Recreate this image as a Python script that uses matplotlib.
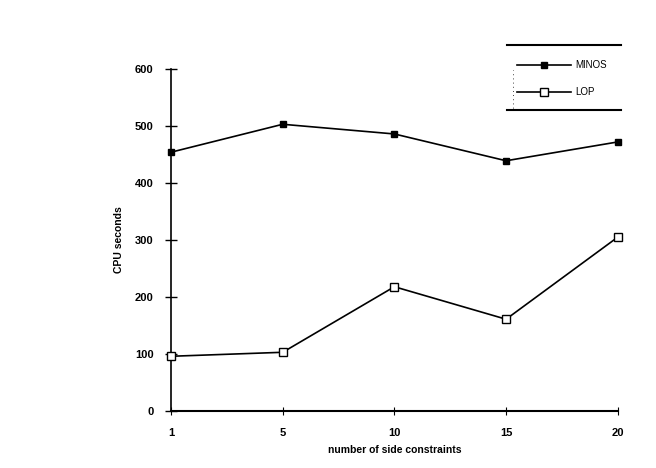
import matplotlib.pyplot as plt
from matplotlib.lines import Line2D

# data
constraints = ["1", "5", "10", "15", "20"]
minos = [454, 503, 486, 439, 472]
lop = [96, 103, 218, 161, 305]
y_ticks = [0, 100, 200, 300, 400, 500, 600]

plt.rcParams["font.family"] = ["Liberation Sans", "DejaVu Sans"]
plt.rcParams["font.weight"] = "bold"

fig = plt.figure(figsize=(6.56, 4.68), dpi=100)
ax = fig.add_axes([0.2607, 0.1218, 0.681, 0.7308])

x = range(len(constraints))
ax.plot(x, minos, color="black", lw=1.2, marker="s", ms=4.5,
        mfc="black", mec="black", label="MINOS", clip_on=False)
ax.plot(x, lop, color="black", lw=1.2, marker="s", ms=6,
        mfc="white", mec="black", mew=1.0, label="LOP", clip_on=False, zorder=3)

ax.set_xlim(0, len(constraints) - 1)
ax.set_ylim(0, 600)
ax.set_xticks(list(x))
ax.set_xticklabels(constraints)
ax.set_yticks(y_ticks)

for s in ["top", "right"]:
    ax.spines[s].set_visible(False)
ax.spines["left"].set_linewidth(1.2)
ax.spines["bottom"].set_linewidth(1.5)

ax.tick_params(axis="y", direction="inout", length=9, width=1.0,
               labelsize=8, pad=8)
ax.tick_params(axis="x", direction="inout", length=6, width=0.8,
               labelsize=8, pad=9)

ax.set_ylabel("CPU seconds", fontsize=7.5, fontweight="bold", labelpad=8)
ax.set_xlabel("number of side constraints", fontsize=7.5,
              fontweight="bold", labelpad=5)

# legend: only top and bottom rules, like the scanned original
leg = fig.legend(loc="upper left", bbox_to_anchor=(0.775, 0.89),
                 frameon=False, handlelength=5.5,
                 handletextpad=0.5, labelspacing=1.75,
                 prop={"weight": "normal", "size": 7})
fig.add_artist(Line2D([0.773, 0.946], [0.904, 0.904], color="black", lw=1.5))
fig.add_artist(Line2D([0.773, 0.946], [0.765, 0.765], color="black", lw=1.5))
fig.add_artist(Line2D([0.782, 0.782], [0.77, 0.85], color="black", lw=0.6,
                      ls=(0, (1, 4))))

fig.savefig("out.png", dpi=100)
